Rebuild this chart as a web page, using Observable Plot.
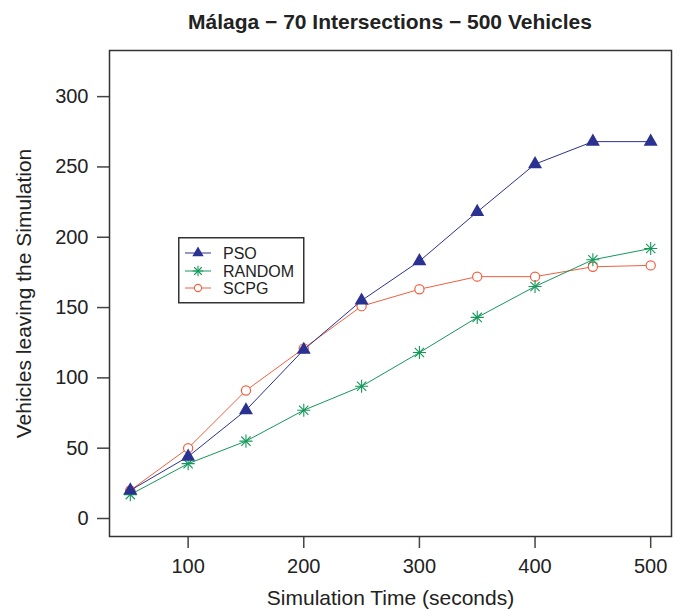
<!DOCTYPE html>
<html><head><meta charset="utf-8">
<script src="https://cdn.jsdelivr.net/npm/d3@7"></script>
<script src="https://cdn.jsdelivr.net/npm/@observablehq/plot@0.6"></script>
<style>
body{margin:0;background:#fff;font-family:"Liberation Sans",Arial,sans-serif;}
#wrap{position:relative;width:680px;height:609px;}
#title{height:40px;line-height:43px;box-sizing:border-box;padding-left:109px;width:671px;text-align:center;font-weight:bold;font-size:21px;color:#222;}
#legend{position:absolute;left:178px;top:237px;}
</style></head><body>
<div id="wrap"><div id="title">Málaga − 70 Intersections − 500 Vehicles</div><div id="chart"></div><svg id="legend" width="130" height="70"></svg></div>
<script>
const times = [50, 100, 150, 200, 250, 300, 350, 400, 450, 500];
const pso = [20, 44, 77, 120, 155, 183, 218, 252, 268, 268];
const random = [17, 39, 55, 77, 94, 118, 143, 165, 184, 192];
const scpg = [20, 50, 91, 121, 151, 163, 172, 172, 179, 180];
const seriesNames = ["PSO", "RANDOM", "SCPG"];
const seriesColors = ["#2b3190", "#14985a", "#f1603f"];
const xTicks = [100, 200, 300, 400, 500];
const yTicks = [0, 50, 100, 150, 200, 250, 300];

const mk = (arr) => times.map((t, i) => ({t, v: arr[i]}));
const dPSO = mk(pso), dRND = mk(random), dSCPG = mk(scpg);
const [cP, cR, cS] = seriesColors;

const chart = Plot.plot({
  width: 680, height: 569,
  marginLeft: 109, marginRight: 9, marginTop: 10, marginBottom: 73,
  x: {domain: [32, 518]},
  y: {domain: [-12.8, 332.8]},
  style: {fontFamily: "'Liberation Sans', Arial, sans-serif", color: "#222", background: "#fff"},
  marks: [
    Plot.axisX({ticks: xTicks, tickSize: 12, tickPadding: 10, fontSize: 20, strokeWidth: 1.5, stroke: "#444", label: null}),
    Plot.axisY({ticks: yTicks, tickSize: 12, tickPadding: 9, fontSize: 20, strokeWidth: 1.5, stroke: "#444", label: null}),
    Plot.axisX({ticks: [], tickSize: 0, fontSize: 21, label: "Simulation Time (seconds)", labelAnchor: "center", labelOffset: 68, labelArrow: "none"}),
    Plot.axisY({ticks: [], tickSize: 0, fontSize: 21, label: "Vehicles leaving the Simulation", labelAnchor: "center", labelOffset: 93, labelArrow: "none"}),
    Plot.line(dSCPG, {x: "t", y: "v", stroke: cS, strokeWidth: 1}),
    Plot.dot(dSCPG, {x: "t", y: "v", symbol: "circle", r: 4.6, stroke: cS, fill: "white", strokeWidth: 1.2}),
    Plot.line(dRND, {x: "t", y: "v", stroke: cR, strokeWidth: 1}),
    Plot.dot(dRND, {x: "t", y: "v", symbol: "plus", r: 4.3, stroke: cR, strokeWidth: 1.1}),
    Plot.dot(dRND, {x: "t", y: "v", symbol: "times", r: 4.3, stroke: cR, strokeWidth: 1.1}),
    Plot.line(dPSO, {x: "t", y: "v", stroke: cP, strokeWidth: 1}),
    Plot.dot(dPSO, {x: "t", y: "v", symbol: "triangle", r: 5.2, fill: cP, stroke: "none"}),
    Plot.frame({stroke: "#333", strokeWidth: 1.5})
  ]
});
document.getElementById("chart").appendChild(chart);

// legend
const lg = d3.select("#legend");
lg.append("rect").attr("x", 0.75).attr("y", 0.75).attr("width", 125).attr("height", 65)
  .attr("fill", "white").attr("stroke", "#333").attr("stroke-width", 1.5);
const rowY = [16, 34, 51];
const syms = [
  [{t: d3.symbolTriangle, r: 4.2, fill: cP, stroke: "none"}],
  [{t: d3.symbolPlus, r: 3.5, fill: "none", stroke: cR}, {t: d3.symbolTimes, r: 3.5, fill: "none", stroke: cR}],
  [{t: d3.symbolCircle, r: 3.6, fill: "white", stroke: cS}]
];
seriesNames.forEach((name, i) => {
  const g = lg.append("g").attr("transform", `translate(0,${rowY[i]})`);
  g.append("line").attr("x1", 7).attr("x2", 33).attr("stroke", seriesColors[i]).attr("stroke-width", 1);
  syms[i].forEach(s => {
    g.append("path").attr("transform", "translate(20,0)")
      .attr("d", d3.symbol(s.t, s.r * s.r * Math.PI)())
      .attr("fill", s.fill).attr("stroke", s.stroke).attr("stroke-width", 1.1);
  });
  g.append("text").attr("x", 45).attr("dy", "0.36em").attr("font-size", 16)
    .attr("font-family", "'Liberation Sans', Arial, sans-serif").attr("fill", "#222").text(name);
});
</script>
</body></html>
